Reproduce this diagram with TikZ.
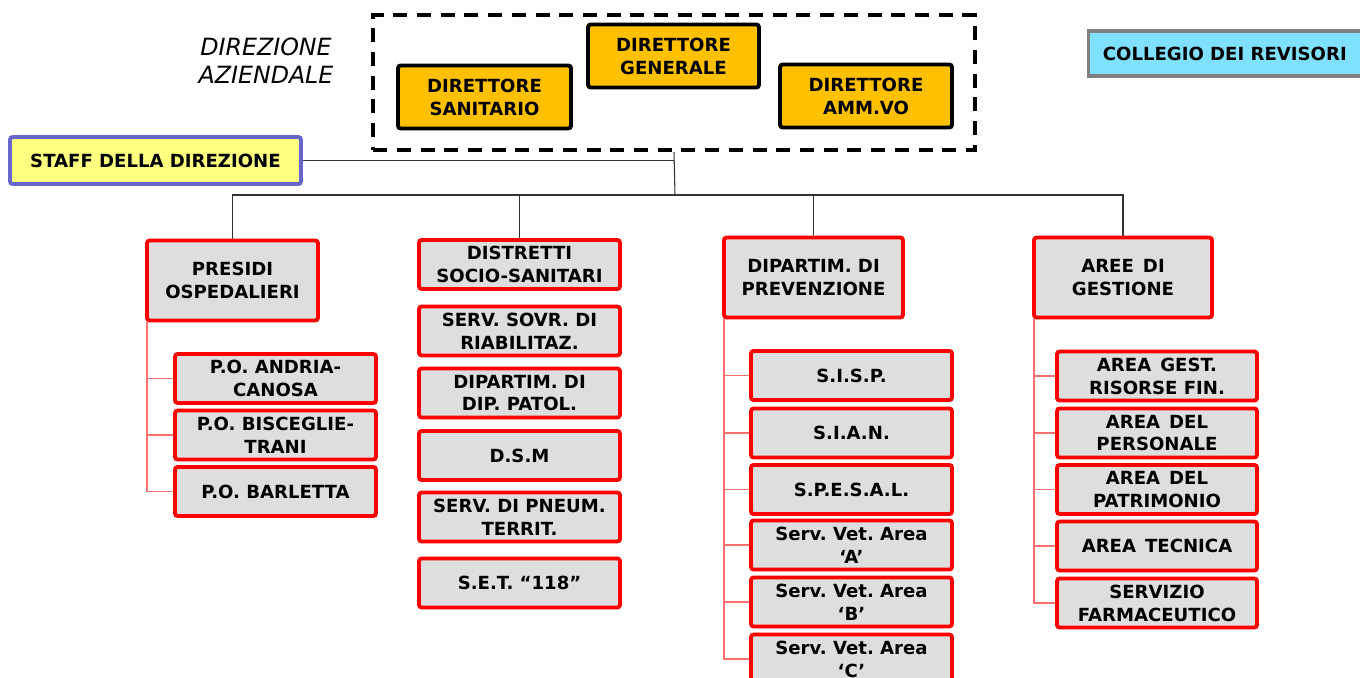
\documentclass[tikz,border=0pt]{standalone}
\usepackage{fontspec}
\setmainfont{DejaVu Sans}
\usepackage{xcolor}
\usepackage{tikz}
\usetikzlibrary{positioning}
\definecolor{dirorange}{RGB}{255, 192, 0}
\definecolor{staffyellow}{RGB}{255, 255, 128}
\definecolor{staffblue}{RGB}{102, 102, 204}
\definecolor{collblue}{RGB}{128, 224, 255}
\definecolor{boxgray}{RGB}{222, 222, 222}
\definecolor{linkred}{RGB}{255, 110, 110}
\frenchspacing

\begin{document}
\begin{tikzpicture}[
    x=0.02cm, y=-0.02cm,
    every node/.style={font=\fontsize{10.3}{13}\selectfont\bfseries, align=center, inner sep=0pt},
    dirbox/.style={rectangle, draw=black, fill=dirorange, line width=2.2pt, rounded corners=1.5pt, minimum width=3.42cm, minimum height=1.26cm},
    unitbox/.style={rectangle, draw=red, fill=boxgray, line width=2.2pt, rounded corners=1.5pt, minimum width=4.02cm, minimum height=0.98cm},
    headbox/.style={unitbox, minimum width=3.5cm, minimum height=1.6cm},
    link/.style={line width=0.6pt, color=black!80},
    sublink/.style={line width=0.8pt, color=linkred}
]
    \useasboundingbox (0,0) rectangle (1360,678);

    % direzione aziendale
    \node[font=\fontsize{13.5}{16}\selectfont\itshape] (dirlabel) at (266,61) {DIREZIONE\\AZIENDALE};
    \node[rectangle, draw=black, line width=2.2pt, dash pattern=on 8pt off 5.5pt, minimum width=12.04cm, minimum height=2.7cm] (dir) at (674,82.5) {};
    \node[dirbox] (dg) at (673.5,56) {DIRETTORE\\GENERALE};
    \node[dirbox, minimum width=3.46cm] (ds) at (484.5,97) {DIRETTORE\\SANITARIO};
    \node[dirbox, minimum width=3.44cm] (da) at (866,96) {DIRETTORE\\AMM.VO};

    \node[rectangle, draw=black!50, fill=collblue, line width=1.8pt, minimum width=5.5cm, minimum height=0.9cm, anchor=west] (coll) at (1087,53.5) {\hspace*{-0.05cm}COLLEGIO DEI REVISORI};
    \node[rectangle, draw=staffblue, fill=staffyellow, line width=2.2pt, rounded corners=1.5pt, minimum width=5.82cm, minimum height=0.94cm] (staff) at (155.5,160.5) {STAFF DELLA DIREZIONE};

    % strutture
    \node[headbox, minimum width=3.42cm] (presidi) at (232.5,280.5) {PRESIDI\\OSPEDALIERI};
    \node[unitbox] (distretti) at (519.5,264.5) {DISTRETTI\\SOCIO-SANITARI};
    \node[headbox, minimum width=3.58cm] (prev) at (813.5,277.5) {DIPARTIM. DI\\PREVENZIONE};
    \node[headbox, minimum width=3.56cm] (aree) at (1123,277.5) {AREE\hspace{0.5em}DI\\GESTIONE};

    \coordinate (bar) at (675,195);
    \draw[link] (staff.east) -- (staff.east -| dir.south);
    \draw[link] (dir.south) -- (bar);
    \draw[link] (presidi.north) -- (presidi.north |- bar) -- (aree.north |- bar) -- (aree.north);
    \draw[link] (distretti.north) -- (distretti.north |- bar);
    \draw[link] (prev.north) -- (prev.north |- bar);

    % presidi ospedalieri
    \node[unitbox] (po1) at (275.5,378.5) {P.O. ANDRIA-\\CANOSA};
    \node[unitbox] (po2) at (275.5,435) {P.O. BISCEGLIE-\\TRANI};
    \node[unitbox] (po3) at (275.5,491.5) {P.O. BARLETTA};
    \foreach \n in {po1,po2,po3}
        \draw[sublink] ([xshift=1pt]presidi.south west) |- (\n.west);

    % distretti
    \node[unitbox] (riab) at (519.5,331) {SERV. SOVR. DI\\RIABILITAZ.};
    \node[unitbox] (patol) at (519.5,393) {DIPARTIM. DI\\DIP. PATOL.};
    \node[unitbox] (dsm) at (519.5,455.5) {D.S.M};
    \node[unitbox] (pneum) at (519.5,517) {SERV. DI PNEUM.\\TERRIT.};
    \node[unitbox] (set) at (519.5,583) {S.E.T. “118”};

    % prevenzione
    \node[unitbox] (sisp) at (851.5,375.5) {S.I.S.P.};
    \node[unitbox] (sian) at (851.5,433) {S.I.A.N.};
    \node[unitbox] (spesal) at (851.5,489.5) {S.P.E.S.A.L.};
    \node[unitbox] (veta) at (851.5,545) {Serv. Vet. Area\\‘A’};
    \node[unitbox] (vetb) at (851.5,602) {Serv. Vet. Area\\‘B’};
    \node[unitbox] (vetc) at (851.5,659) {Serv. Vet. Area\\‘C’};
    \foreach \n in {sisp,sian,spesal,veta,vetb,vetc}
        \draw[sublink] ([xshift=1pt]prev.south west) |- (\n.west);

    % aree di gestione
    \node[unitbox, minimum width=4cm] (fin) at (1157,376) {AREA\hspace{0.5em}GEST.\\RISORSE FIN.};
    \node[unitbox, minimum width=4cm] (pers) at (1157,433) {AREA\hspace{0.5em}DEL\\PERSONALE};
    \node[unitbox, minimum width=4cm] (patr) at (1157,489.5) {AREA\hspace{0.5em}DEL\\PATRIMONIO};
    \node[unitbox, minimum width=4cm] (tec) at (1157,546) {AREA\hspace{0.5em}TECNICA};
    \node[unitbox, minimum width=4cm] (farm) at (1157,603) {SERVIZIO\\FARMACEUTICO};
    \foreach \n in {fin,pers,patr,tec,farm}
        \draw[sublink] ([xshift=1pt]aree.south west) |- (\n.west);
\end{tikzpicture}
\end{document}
